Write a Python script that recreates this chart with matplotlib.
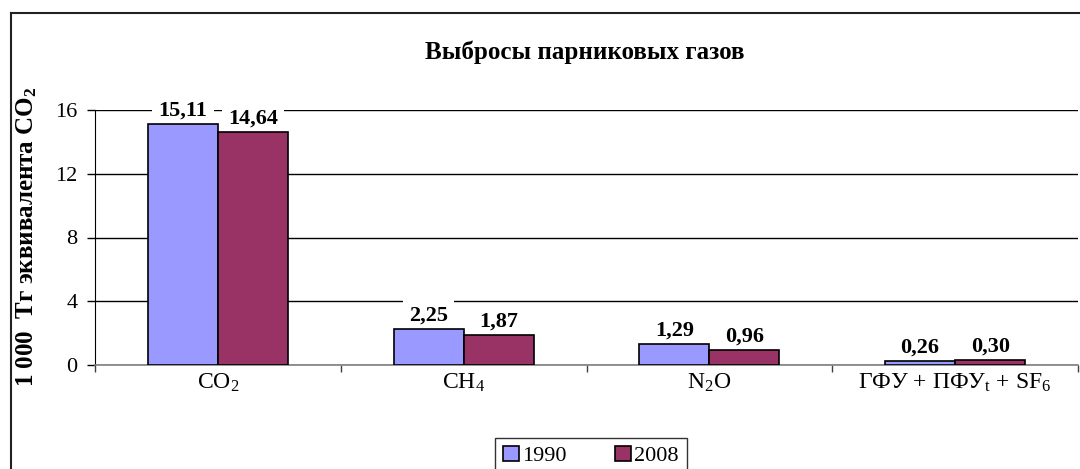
import matplotlib
matplotlib.use("Agg")
import matplotlib.pyplot as plt
import numpy as np
from matplotlib.lines import Line2D

plt.rcParams['font.family'] = ['Liberation Serif', 'DejaVu Serif']
plt.rcParams['mathtext.fontset'] = 'custom'
plt.rcParams['mathtext.rm'] = 'Liberation Serif'
plt.rcParams['mathtext.it'] = 'Liberation Serif:italic'
plt.rcParams['mathtext.bf'] = 'Liberation Serif:bold'
plt.rcParams['mathtext.default'] = 'regular'

categories = ["CO$_2$", "CH$_4$", "N$_2$O", "ГФУ + ПФУ$_t$ + SF$_6$"]
series_names = ["1990", "2008"]
values_1990 = [15.11, 2.25, 1.29, 0.26]
values_2008 = [14.64, 1.87, 0.96, 0.30]
value_labels_1990 = ["15,11", "2,25", "1,29", "0,26"]
value_labels_2008 = ["14,64", "1,87", "0,96", "0,30"]
yticks = [0, 4, 8, 12, 16]
title = "Выбросы парниковых газов"
ylabel = "1 000  Тг эквивалента CO$_2$"

W, H = 1080, 469
fig = plt.figure(figsize=(W / 100, H / 100), dpi=100)
ax = fig.add_axes([95 / W, 1 - 365 / H, (1078 - 95) / W, (365 - 110) / H])

x = np.arange(len(categories))
bw = 0.285
c1990 = "#9999FF"
c2008 = "#993366"
b1 = ax.bar(x - bw / 2, values_1990, width=bw, color=c1990, edgecolor="black", linewidth=1.2, label=series_names[0], zorder=3)
b2 = ax.bar(x + bw / 2, values_2008, width=bw, color=c2008, edgecolor="black", linewidth=1.2, label=series_names[1], zorder=3)

for bars, labels in ((b1, value_labels_1990), (b2, value_labels_2008)):
    for rect, lab in zip(bars, labels):
        ax.annotate(lab, (rect.get_x() + rect.get_width() / 2, rect.get_height()),
                    xytext=(0, 2.5), textcoords="offset points", ha="center", va="bottom",
                    fontsize=16, fontweight="bold", zorder=2.5,
                    bbox=dict(facecolor="white", edgecolor="none", pad=4.5))

ax.set_xlim(-0.5, len(categories) - 0.5)
ax.set_ylim(0, 16)
ax.set_yticks(yticks)
ax.set_yticklabels([str(t) for t in yticks], fontsize=16)
ax.yaxis.grid(True, color="black", linewidth=1.0, zorder=0)
ax.set_axisbelow(True)
ax.tick_params(axis="y", length=6, width=1, pad=6.5, direction="out")

ax.set_xticks(x)
ax.set_xticklabels(categories, fontsize=17)
ax.set_xticks(np.arange(len(categories) + 1) - 0.5, minor=True)
ax.tick_params(axis="x", which="major", length=0, pad=5)
ax.tick_params(axis="x", which="minor", length=5, width=1, color="#404040")

for s in ("top", "right"):
    ax.spines[s].set_visible(False)
ax.spines["left"].set_color("black")
ax.spines["bottom"].set_color("#808080")
ax.spines["bottom"].set_linewidth(1.2)

fig.text(585 / W, 1 - 52 / H, title, ha="center", va="center", fontsize=18, fontweight="bold")
fig.text(27 / W, 1 - 237 / H, ylabel, ha="center", va="center", rotation=90, fontsize=18, fontweight="bold")

leg = fig.legend(handles=[b1, b2], labels=series_names, loc="upper center",
                 bbox_to_anchor=(591 / W, 1 - 438 / H), ncol=2, fontsize=16,
                 frameon=True, fancybox=False, edgecolor="black", handlelength=0.7,
                 handleheight=0.7, handletextpad=0.15, columnspacing=2.2, borderpad=0.35,
                 borderaxespad=0)
leg.get_frame().set_linewidth(1.0)

fig.add_artist(Line2D([11 / W, 11 / W], [0, 1 - 13 / H], color="#222222", linewidth=1.5))
fig.add_artist(Line2D([11 / W, 1], [1 - 13 / H, 1 - 13 / H], color="#222222", linewidth=1.5))

fig.savefig("out.png", dpi=100)
